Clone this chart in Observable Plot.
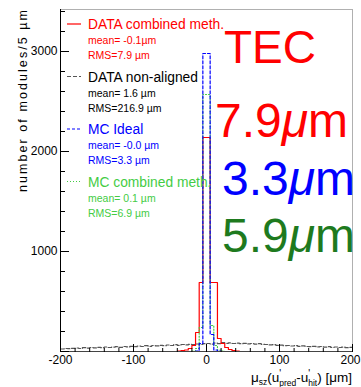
<!DOCTYPE html>
<html><head><meta charset="utf-8">
<script src="https://cdn.jsdelivr.net/npm/d3@7"></script>
<script src="https://cdn.jsdelivr.net/npm/@observablehq/plot@0.6"></script>
<style>body{margin:0;background:#fff}#chart svg{display:block}</style>
</head><body><div id="chart"></div>
<script>
// ---- data: histograms in 5 µm bins, from -200 to +200 µm ----
const binStart = -200, binWidth = 5, nBins = 80;
// DATA non-aligned (broad), 80 bins
const nonAligned = [
  25,30,28,32,35,30,38,34,40,36,42,38,45,40,44,48,42,50,46,52,
  48,55,50,58,52,60,56,62,58,65,60,68,62,70,66,72,68,75,70,78,
  80,74,85,78,88,82,86,80,84,78,82,76,80,74,78,72,70,66,68,62,
  64,58,60,55,58,52,56,50,48,52,46,50,44,48,42,45,40,43,38,41
];
// narrow peaks: bin lower edges and counts (all other bins read as 0)
const combinedEdges = [-40,-35,-30,-25,-20,-15,-10,-5,0,5,10,15,20,25,30,35,40];
const combinedCounts = [3,8,15,30,60,190,690,2140,2140,690,690,130,80,40,20,8,3];
const idealEdges = [-15,-10,-5,0,5,10,15];
const idealCounts = [5,80,2980,2980,170,15,3];
const mcCombEdges = [-20,-15,-10,-5,0,5,10,15,20];
const mcCombCounts = [5,30,240,2570,2570,260,60,15,5];

const legendTitles = ["DATA combined meth.", "DATA non-aligned", "MC Ideal", "MC combined meth."];
const legendMeans = ["mean= -0.1µm", "mean= 1.6 µm", "mean= -0.0 µm", "mean= 0.1 µm"];
const legendRMS = ["RMS=7.9 µm", "RMS=216.9 µm", "RMS=3.3 µm", "RMS=6.9 µm"];
const seriesColors = ["#ff0000", "#555555", "#0000ff", "#44cc44"];
const textColors = ["#ff0000", "#000000", "#0000ff", "#44cc44"];
const seriesDash = [null, "4,2", "3,2", "1,2"];

const bigTitle = "TEC";
const resValues = ["7.9", "3.3", "5.9"];
const resColors = ["#ff0000", "#0000ff", "#1e7a1e"];

const yTickLabels = [1000, 2000, 3000];
const xTickLabels = [-200, -100, 0, 100];
const xLastTick = [200];

// ---- build step outlines ----
function full(edges, counts) {
  const arr = new Array(nBins).fill(0);
  edges.forEach((e, i) => { arr[Math.round((e - binStart) / binWidth)] = counts[i]; });
  return arr;
}
function steps(counts) {
  const pts = counts.map((c, i) => ({x: binStart + i * binWidth, y: c}));
  pts.push({x: binStart + nBins * binWidth, y: counts[counts.length - 1]});
  return pts;
}
const series = [
  {pts: steps(nonAligned), color: seriesColors[1], dash: seriesDash[1]},
  {pts: steps(full(combinedEdges, combinedCounts)), color: seriesColors[0], dash: seriesDash[0]},
  {pts: steps(full(mcCombEdges, mcCombCounts)), color: seriesColors[3], dash: seriesDash[3]},
  {pts: steps(full(idealEdges, idealCounts)), color: seriesColors[2], dash: seriesDash[2]}
];

const FONT = "'Liberation Sans', Arial, sans-serif";
const fmt = d => String(d);

const svgEl = Plot.plot({
  width: 361, height: 387,
  marginLeft: 60, marginRight: 9, marginTop: 9, marginBottom: 36,
  style: {fontFamily: FONT, background: "#fff", color: "#000"},
  x: {domain: [-200, 200]},
  y: {domain: [0, 3420]},
  marks: [
    Plot.frame({stroke: "#b0b0b0"}),
    ...series.map(s => Plot.line(s.pts, {x: "x", y: "y", curve: "step-after", stroke: s.color, strokeWidth: 1.2, strokeDasharray: s.dash})),
    Plot.ruleX([-200], {stroke: "#000"}),
    Plot.ruleY([0], {stroke: "#444"}),
    Plot.axisY(yTickLabels, {tickSize: 0, tickPadding: 3, fontSize: 12, label: null, tickFormat: fmt}),
    Plot.axisY(d3.range(0, 3420, 1000), {anchor: "right", frameAnchor: "left", tickSize: 8, fill: "none", label: null}),
    Plot.axisY(d3.range(0, 3420, 200), {anchor: "right", frameAnchor: "left", tickSize: 4, fill: "none", label: null}),
    Plot.axisX(xTickLabels, {tickSize: 0, tickPadding: 4, fontSize: 12, label: null, tickFormat: fmt}),
    Plot.axisX(xLastTick, {tickSize: 0, tickPadding: 4, fontSize: 12, label: null, tickFormat: fmt, dx: -2}),
    Plot.axisX(d3.range(-200, 201, 100), {anchor: "top", frameAnchor: "bottom", tickSize: 8, fill: "none", label: null}),
    Plot.axisX(d3.range(-200, 201, 20), {anchor: "top", frameAnchor: "bottom", tickSize: 4, fill: "none", label: null})
  ]
});
document.getElementById("chart").appendChild(svgEl);
const svg = d3.select(svgEl);

// legend
const lg = svg.append("g").attr("font-family", FONT).attr("text-anchor", "start");
legendTitles.forEach((t, i) => {
  const b = 29 + i * 52.5;
  lg.append("line").attr("x1", 67).attr("x2", 81).attr("y1", b - 5).attr("y2", b - 5)
    .attr("stroke", seriesColors[i]).attr("stroke-width", 1.2)
    .attr("stroke-dasharray", seriesDash[i]);
  lg.append("text").attr("x", 88).attr("y", b).attr("font-size", 13.8).attr("fill", textColors[i]).text(t);
  lg.append("text").attr("x", 88).attr("y", b + 15).attr("font-size", 10.5).attr("fill", textColors[i]).text(legendMeans[i]);
  lg.append("text").attr("x", 88).attr("y", b + 30).attr("font-size", 10.5).attr("fill", textColors[i]).text(legendRMS[i]);
});

// big labels
const bg = svg.append("g").attr("font-family", FONT).attr("text-anchor", "start");
bg.append("text").attr("x", 224).attr("y", 63).attr("font-size", 46).attr("fill", resColors[0]).text(bigTitle);
resValues.forEach((v, i) => {
  const t = bg.append("text").attr("x", 215 + (i ? 7 : 0)).attr("y", 137 + i * 57.5).attr("font-size", 48).attr("fill", resColors[i]);
  t.append("tspan").text(v);
  t.append("tspan").attr("font-style", "italic").text("μ");
  t.append("tspan").text("m");
});

// axis titles
svg.append("text").attr("font-family", FONT).attr("font-size", 12.5)
  .attr("transform", "translate(27,10) rotate(-90)").attr("text-anchor", "end")
  .attr("textLength", 182).attr("lengthAdjust", "spacing")
  .text("number of modules/5 µm");

const xl = svg.append("text").attr("font-family", FONT).attr("font-size", 13.5)
  .attr("x", 352).attr("y", 382).attr("text-anchor", "end");
xl.append("tspan").text("μ");
xl.append("tspan").attr("font-size", 8.5).attr("dy", 3).text("sz");
xl.append("tspan").attr("dy", -3).text("(u");
xl.append("tspan").attr("font-size", 10).attr("dy", -5).text("'");
xl.append("tspan").attr("font-size", 8.5).attr("dx", -2).attr("dy", 9).text("pred");
xl.append("tspan").attr("dy", -4).text("-u");
xl.append("tspan").attr("font-size", 10).attr("dy", -5).text("'");
xl.append("tspan").attr("font-size", 8.5).attr("dx", -2).attr("dy", 9).text("hit");
xl.append("tspan").attr("dy", -4).text(") [μm]");
</script>
</body></html>
